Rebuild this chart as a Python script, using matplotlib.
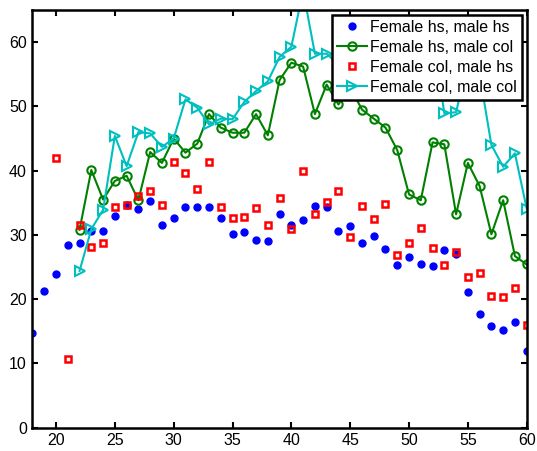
import matplotlib
matplotlib.use('Agg')
import matplotlib.pyplot as plt
import numpy as np

# Percentages by age of the woman, one series per education pairing
ages_hs_hs = np.arange(18, 61)
hs_hs = [14.8, 21.3, 23.9, 28.5, 28.7, 30.6, 30.6, 33.0, 34.6, 34.0,
         35.2, 31.5, 32.6, 34.4, 34.3, 34.4, 32.7, 30.1, 30.4, 29.2,
         29.1, 33.2, 31.6, 32.3, 34.5, 34.4, 30.6, 31.4, 28.7, 29.8,
         27.8, 25.3, 26.5, 25.5, 25.1, 27.6, 27.0, 21.1, 17.7, 15.8,
         15.2, 16.4, 12.0]

ages_hs_col = np.arange(22, 61)
hs_col = [30.8, 40.1, 35.5, 38.4, 39.2, 35.4, 42.9, 41.2, 45.0, 42.8,
          44.2, 48.8, 46.7, 45.9, 45.9, 48.8, 45.5, 54.1, 56.8, 56.2,
          48.8, 53.4, 50.3, 53.0, 49.5, 48.1, 46.7, 43.2, 36.3, 35.4,
          44.4, 44.1, 33.2, 41.2, 37.6, 30.1, 35.4, 26.7, 25.4]

ages_col_hs = np.arange(20, 61)
col_hs = [41.9, 10.7, 31.5, 28.1, 28.7, 34.4, 34.7, 36.1, 36.9, 34.6,
          41.4, 39.6, 37.2, 41.3, 34.3, 32.7, 32.8, 34.2, 31.6, 35.8,
          30.9, 40.0, 33.3, 35.1, 36.9, 29.7, 34.5, 32.4, 34.8, 26.9,
          28.7, 31.1, 28.0, 25.3, 27.3, 23.5, 24.0, 20.5, 20.3, 21.7,
          16.0]

ages_col_col = np.arange(22, 61)
col_col = [24.4, 30.9, 33.9, 45.4, 40.7, 46.0, 45.8, 43.7, 45.0, 51.1,
           49.8, 47.2, 48.1, 48.0, 50.7, 52.4, 53.9, 57.7, 59.3, 68.0,
           58.2, 58.2, 56.5, 57.5, 55.0, 58.0, 55.5, 56.0, 54.0, 57.0,
           61.5, 48.9, 49.1, 57.0, 55.0, 44.0, 40.6, 42.7, 34.1]

labels = ['Female hs, male hs', 'Female hs, male col',
          'Female col, male hs', 'Female col, male col']

plt.rcParams['font.family'] = ['Liberation Sans', 'DejaVu Sans']
plt.rcParams['font.size'] = 11.5

fig = plt.figure(figsize=(5.37, 4.51), dpi=100)
ax = fig.add_axes([0.0605, 0.0517, 0.9203, 0.9261])

ax.plot(ages_hs_hs, hs_hs, linestyle='none', marker='o', markersize=5,
        color='#0000ff', label=labels[0])
ax.plot(ages_hs_col, hs_col, linestyle='-', linewidth=1.5, marker='o',
        markersize=6, markerfacecolor='none', markeredgewidth=1.5,
        color='#008000', label=labels[1])
ax.plot(ages_col_hs, col_hs, linestyle='none', marker='s', markersize=5,
        markerfacecolor='none', markeredgewidth=1.8,
        color='#ff0000', label=labels[2])
ax.plot(ages_col_col, col_col, linestyle='-', linewidth=1.5, marker='>',
        markersize=7.5, markerfacecolor='none', markeredgewidth=1.5,
        color='#00bfbf', label=labels[3])

ax.set_xlim(18, 60)
ax.set_ylim(0, 65)
ax.set_xticks(np.arange(20, 61, 5))
ax.set_yticks(np.arange(0, 61, 10))
ax.tick_params(direction='in', length=4, width=1.5, top=True, right=True,
               labelsize=11.5, pad=4)
for spine in ax.spines.values():
    spine.set_linewidth(1.8)

leg = ax.legend(loc='upper right', bbox_to_anchor=(1.0, 1.0),
                borderaxespad=0.3, fancybox=False, framealpha=1,
                edgecolor='black', labelspacing=0.32, borderpad=0.3,
                handlelength=1.9, handletextpad=0.2, fontsize=11.5)
leg.get_frame().set_linewidth(1.8)

fig.savefig('out.png', dpi=100)
